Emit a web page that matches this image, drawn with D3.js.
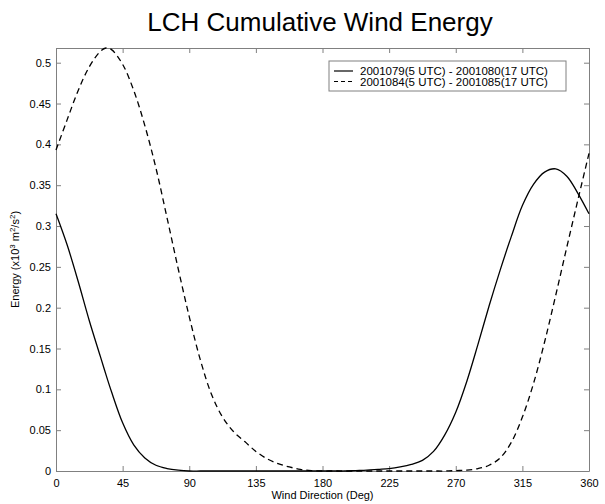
<!DOCTYPE html>
<html>
<head>
<meta charset="utf-8">
<script src="https://cdn.jsdelivr.net/npm/d3@7"></script>
<style>
  body { margin: 0; background: white; }
  svg { display: block; font-family: "Liberation Sans", Arial, sans-serif; }
</style>
</head>
<body>
<svg id="chart" width="605" height="504"></svg>
<script>
// wind direction (deg) where the curves were read
const angles = [0, 7.5, 15, 22.5, 30, 33.75, 37.5, 45, 52.5, 60, 67.5, 75, 82.5, 90, 97.5, 105, 112.5, 120, 127.5, 135, 142.5, 150, 157.5, 165, 172.5, 180, 187.5, 195, 202.5, 210, 217.5, 225, 232.5, 240, 247.5, 255, 262.5, 270, 277.5, 285, 292.5, 300, 307.5, 315, 322.5, 330, 337.5, 345, 352.5, 360];

// 2001079(5 UTC) - 2001080(17 UTC)
const energy079 = [0.315, 0.277, 0.232, 0.184, 0.14, 0.118, 0.097, 0.059, 0.032, 0.016, 0.007, 0.003, 0.001, 0, 0, 0, 0, 0, 0, 0, 0, 0, 0, 0, 0, 0, 0, 0, 0.0005, 0.001, 0.002, 0.003, 0.005, 0.008, 0.013, 0.024, 0.044, 0.072, 0.11, 0.155, 0.202, 0.246, 0.287, 0.325, 0.351, 0.366, 0.37, 0.361, 0.34, 0.315];

// 2001084(5 UTC) - 2001085(17 UTC)
const energy084 = [0.393, 0.43, 0.466, 0.495, 0.514, 0.518, 0.516, 0.498, 0.466, 0.423, 0.371, 0.31, 0.248, 0.189, 0.136, 0.094, 0.066, 0.048, 0.036, 0.024, 0.015, 0.009, 0.005, 0.002, 0.0005, 0, 0, 0, 0, 0, 0, 0, 0, 0, 0, 0, 0, 0.0005, 0.001, 0.003, 0.007, 0.016, 0.035, 0.066, 0.107, 0.158, 0.215, 0.274, 0.332, 0.389];

const xTicks = [0, 45, 90, 135, 180, 225, 270, 315, 360];
const yTicks = [0, 0.05, 0.1, 0.15, 0.2, 0.25, 0.3, 0.35, 0.4, 0.45, 0.5];
const seriesNames = ["2001079(5 UTC) - 2001080(17 UTC)", "2001084(5 UTC) - 2001085(17 UTC)"];

const margin = { left: 56, right: 16, top: 48, bottom: 33 };
const width = 605, height = 504;
const axisColor = "#808080";

const svg = d3.select("#chart");

const xScale = d3.scaleLinear().domain([0, 360]).range([margin.left, width - margin.right]);
const yScale = d3.scaleLinear().domain([0, 0.518]).range([height - margin.bottom, margin.top]);

const styleAxis = (g) => {
  g.select(".domain").attr("stroke", axisColor);
  g.selectAll(".tick line").attr("stroke", axisColor);
  g.selectAll(".tick text").attr("fill", "#000").style("font-size", "11px");
};

// bottom / left axes with inward ticks
svg.append("g")
  .attr("transform", `translate(0,${yScale(0)})`)
  .call(d3.axisBottom(xScale).tickValues(xTicks).tickSizeInner(-5).tickSizeOuter(0).tickPadding(8).tickFormat(d3.format("d")))
  .call(styleAxis);

svg.append("g")
  .attr("transform", `translate(${xScale(0)},0)`)
  .call(d3.axisLeft(yScale).tickValues(yTicks).tickSizeInner(-5).tickSizeOuter(0).tickPadding(5).tickFormat((d) => d3.format("")(+d.toFixed(2))))
  .call(styleAxis);

// top / right box with ticks, no labels
svg.append("g")
  .attr("transform", `translate(0,${yScale.range()[1]})`)
  .call(d3.axisTop(xScale).tickValues(xTicks).tickSizeInner(-5).tickSizeOuter(0).tickFormat(""))
  .call(styleAxis);

svg.append("g")
  .attr("transform", `translate(${xScale(360)},0)`)
  .call(d3.axisRight(yScale).tickValues(yTicks).tickSizeInner(-5).tickSizeOuter(0).tickFormat(""))
  .call(styleAxis);

const line = (vals) => d3.line()
  .x((d, i) => xScale(angles[i]))
  .y((d) => yScale(Math.max(0, d)))
  .curve(d3.curveCatmullRom.alpha(0.5))(vals);

svg.append("path")
  .attr("d", line(energy079))
  .attr("fill", "none")
  .attr("stroke", "#000")
  .attr("stroke-width", 1.3);

svg.append("path")
  .attr("d", line(energy084))
  .attr("fill", "none")
  .attr("stroke", "#000")
  .attr("stroke-width", 1.3)
  .attr("stroke-dasharray", "6,4");

// title and axis labels
svg.append("text")
  .attr("x", 320)
  .attr("y", 31)
  .attr("text-anchor", "middle")
  .style("font-size", "26px")
  .text("LCH Cumulative Wind Energy");

svg.append("text")
  .attr("x", (xScale(0) + xScale(360)) / 2)
  .attr("y", 499)
  .attr("text-anchor", "middle")
  .style("font-size", "11px")
  .text("Wind Direction (Deg)");

const yLabel = svg.append("text")
  .attr("transform", `translate(19,${(yScale(0) + yScale(0.518)) / 2}) rotate(-90)`)
  .attr("text-anchor", "middle")
  .style("font-size", "11px");
yLabel.append("tspan").text("Energy (x10");
yLabel.append("tspan").attr("dy", -4).style("font-size", "8px").text("3");
yLabel.append("tspan").attr("dy", 4).text(" m");
yLabel.append("tspan").attr("dy", -4).style("font-size", "8px").text("2");
yLabel.append("tspan").attr("dy", 4).text("/s");
yLabel.append("tspan").attr("dy", -4).style("font-size", "8px").text("2");
yLabel.append("tspan").attr("dy", 4).text(")");

// legend
const legend = svg.append("g").attr("transform", "translate(329,61)");
legend.append("rect")
  .attr("width", 237)
  .attr("height", 30)
  .attr("fill", "white")
  .attr("stroke", axisColor);

seriesNames.forEach((name, i) => {
  const yy = 10 + i * 10.5;
  legend.append("line")
    .attr("x1", 5).attr("x2", 24)
    .attr("y1", yy).attr("y2", yy)
    .attr("stroke", "#000")
    .attr("stroke-width", 1.2)
    .attr("stroke-dasharray", i === 1 ? "4,3" : null);
  legend.append("text")
    .attr("x", 31)
    .attr("y", yy + 4)
    .style("font-size", "11.5px")
    .text(name);
});
</script>
</body>
</html>
